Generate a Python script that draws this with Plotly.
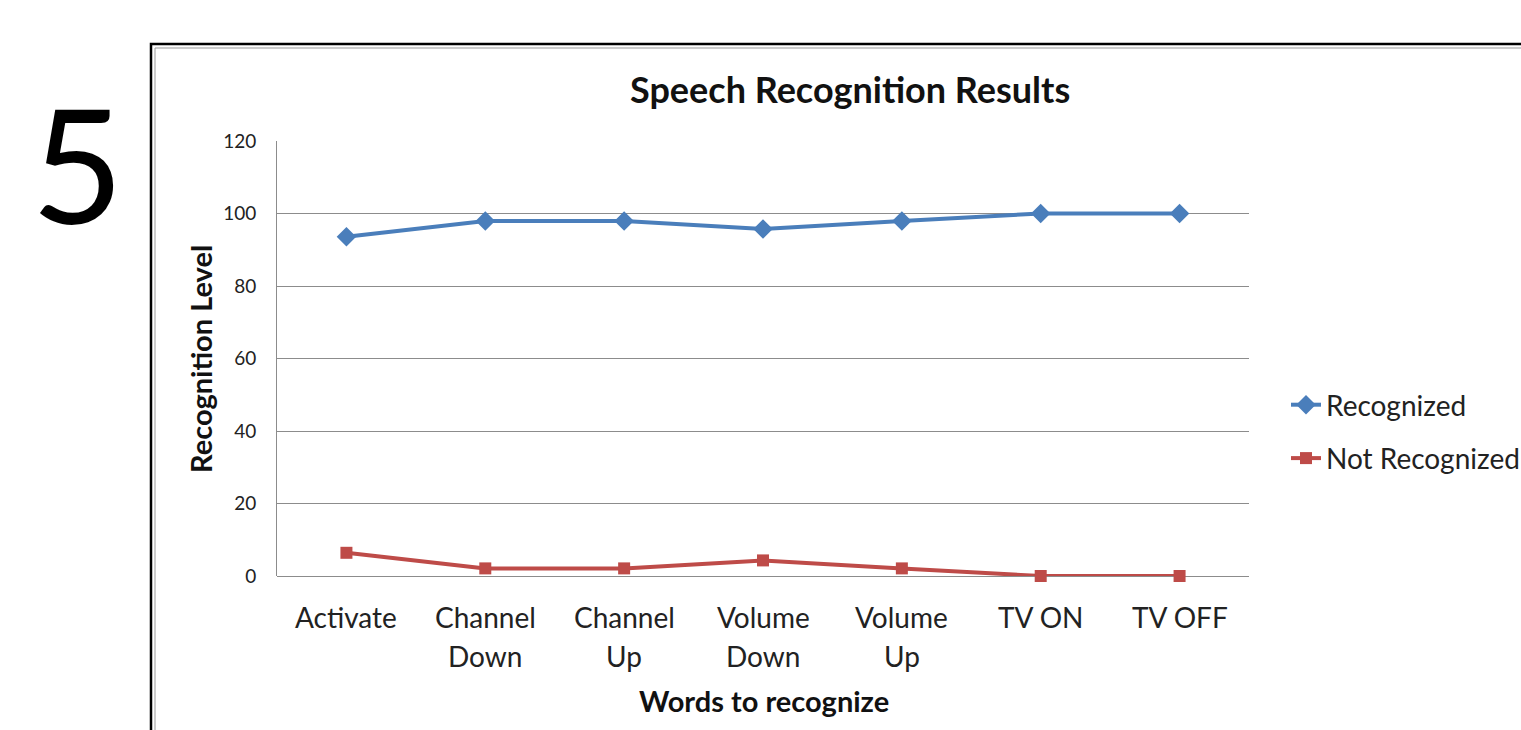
import plotly.graph_objects as go

# Words tested and recognition levels (percent)
words = ["Activate", "Channel Down", "Channel Up", "Volume Down", "Volume Up", "TV ON", "TV OFF"]
word_lines = [("Activate", ""), ("Channel", "Down"), ("Channel", "Up"), ("Volume", "Down"),
              ("Volume", "Up"), ("TV ON", ""), ("TV OFF", "")]
recognized = [93.6, 97.9, 97.9, 95.7, 97.9, 100, 100]
not_recognized = [6.4, 2.1, 2.1, 4.3, 2.1, 0, 0]
y_ticks = [0, 20, 40, 60, 80, 100, 120]

FONT = "Lato, Calibri, Carlito, sans-serif"
W, H = 1521, 730
ML, MR, MT, MB = 277, 272, 141, 154
PW, PH = W - ML - MR, H - MT - MB


def px_x(p):
    return (p - ML) / PW


def px_y(p):
    return (H - MB - p) / PH


xs = list(range(len(words)))

fig = go.Figure()
fig.add_trace(go.Scatter(
    x=xs, y=recognized, name="Recognized", mode="lines+markers",
    line=dict(color="#4A7EBB", width=4),
    marker=dict(symbol="diamond", size=15, color="#4A7EBB"),
    legendgroup="a", cliponaxis=False,
))
fig.add_trace(go.Scatter(
    x=xs, y=not_recognized, name="Not Recognized", mode="lines+markers",
    line=dict(color="#BE4B48", width=4),
    marker=dict(symbol="square", size=12, color="#BE4B48"),
    legendgroup="b", cliponaxis=False,
))

# category labels, two lines each
annotations = []
for i, (l1, l2) in enumerate(word_lines):
    annotations.append(dict(x=i, y=px_y(617), xref="x", yref="paper", text=l1,
                            showarrow=False, font=dict(size=28, color="#222", family=FONT),
                            xanchor="center", yanchor="middle"))
    if l2:
        annotations.append(dict(x=i, y=px_y(656), xref="x", yref="paper", text=l2,
                                showarrow=False, font=dict(size=28, color="#222", family=FONT),
                                xanchor="center", yanchor="middle"))

annotations += [
    dict(x=px_x(850), y=px_y(89), xref="paper", yref="paper", text="<b>Speech Recognition Results</b>",
         showarrow=False, font=dict(size=36, color="#111", family=FONT), xanchor="center", yanchor="middle"),
    dict(x=px_x(764), y=px_y(700), xref="paper", yref="paper", text="<b>Words to recognize</b>",
         showarrow=False, font=dict(size=29, color="#111", family=FONT), xanchor="center", yanchor="middle"),
    dict(x=px_x(200), y=px_y(359), xref="paper", yref="paper", text="<b>Recognition Level</b>",
         showarrow=False, textangle=-90, font=dict(size=29, color="#111", family=FONT),
         xanchor="center", yanchor="middle"),
    dict(x=px_x(77), y=px_y(162), xref="paper", yref="paper", text="5",
         showarrow=False, font=dict(size=160, color="#000", family=FONT),
         xanchor="center", yanchor="middle"),
]

shapes = [
    dict(type="rect", xref="paper", yref="paper", x0=px_x(151), y0=px_y(44), x1=px_x(1560), y1=px_y(780),
         line=dict(color="#000", width=2.5), fillcolor="rgba(0,0,0,0)", layer="below"),
    dict(type="rect", xref="paper", yref="paper", x0=px_x(155), y0=px_y(48), x1=px_x(1560), y1=px_y(780),
         line=dict(color="#999", width=1), fillcolor="rgba(0,0,0,0)", layer="below"),
]

fig.update_layout(
    width=W, height=H,
    margin=dict(l=ML, r=MR, t=MT, b=MB, autoexpand=False),
    paper_bgcolor="white", plot_bgcolor="white",
    font=dict(family=FONT, color="#222"),
    showlegend=True,
    legend=dict(x=px_x(1286), y=px_y(380), xanchor="left", yanchor="top",
                font=dict(size=28, color="#222", family=FONT), tracegroupgap=14,
                bgcolor="rgba(0,0,0,0)"),
    annotations=annotations,
    shapes=shapes,
    xaxis=dict(range=[-0.5, len(words) - 0.5], tickvals=xs, showticklabels=False,
               showgrid=False, zeroline=False, showline=False, fixedrange=True),
    yaxis=dict(range=[0, 120], tickvals=y_ticks, showgrid=True, gridcolor="#8c8c8c", gridwidth=1,
               zeroline=True, zerolinecolor="#8c8c8c", zerolinewidth=1,
               showline=True, linecolor="#8c8c8c", linewidth=1,
               tickfont=dict(size=19, color="#222", family=FONT), ticklabelstandoff=16),
)

fig.write_html("out.html")
